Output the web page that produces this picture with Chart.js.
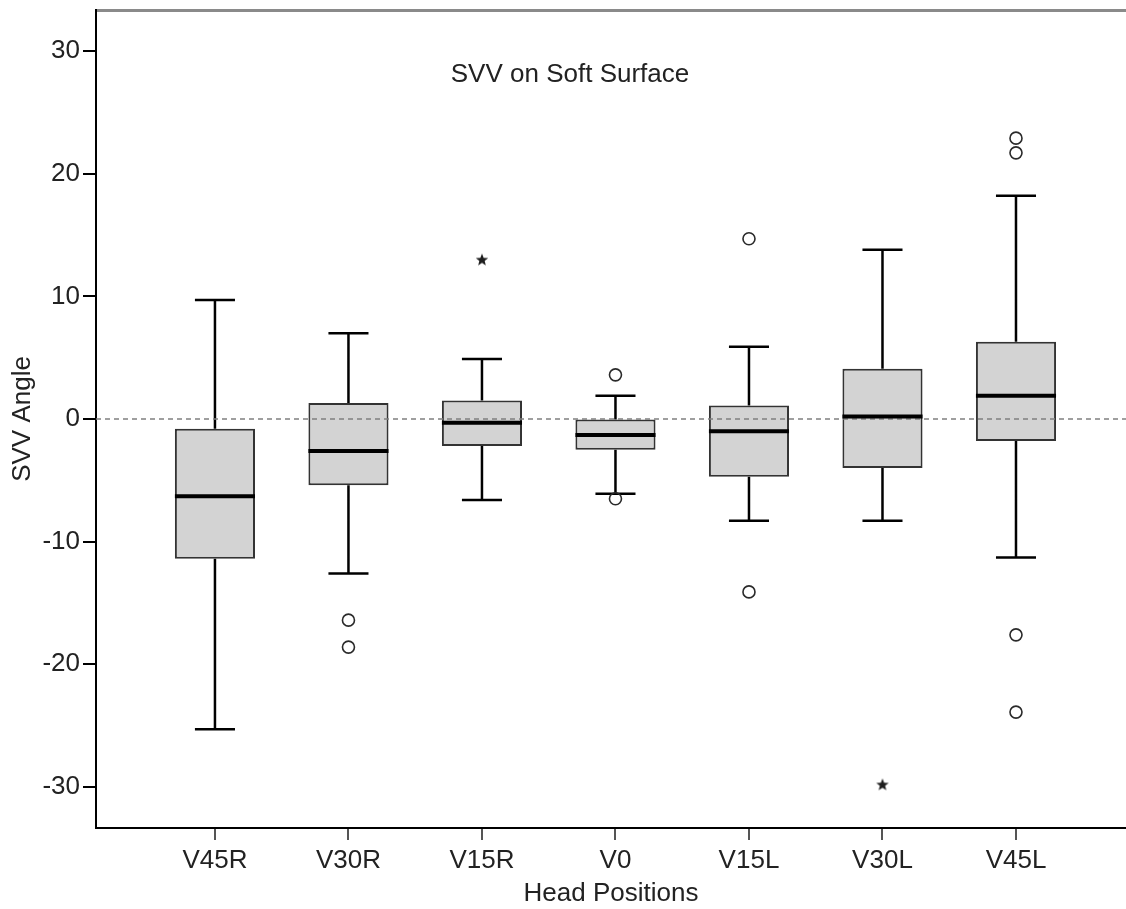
<!DOCTYPE html>
<html>
<head>
<meta charset="utf-8">
<title>SVV on Soft Surface</title>
<script src="https://cdn.jsdelivr.net/npm/chart.js@4.4.1/dist/chart.umd.min.js"></script>
<style>
    html, body { margin: 0; padding: 0; background: #ffffff; }
    #wrap { width: 1126px; height: 909px; }
</style>
</head>
<body>
<div id="wrap"><canvas id="svvChart"></canvas></div>
<script>
// valores (graus)
const categorias = ['V45R', 'V30R', 'V15R', 'V0', 'V15L', 'V30L', 'V45L'];
const bigodeMin = [-25.3, -12.6, -6.6, -6.1, -8.3, -8.3, -11.3];
const quartil1 = [-11.4, -5.4, -2.2, -2.5, -4.7, -4.0, -1.8];
const mediana = [-6.3, -2.6, -0.3, -1.3, -1.0, 0.2, 1.9];
const quartil3 = [-0.8, 1.3, 1.5, -0.05, 1.1, 4.1, 6.3];
const bigodeMax = [9.7, 7.0, 4.9, 1.9, 5.9, 13.8, 18.2];

// outliers (circulos) e extremos (estrelas): indice da categoria + valor
const outlierCat = [1, 1, 3, 3, 4, 4, 6, 6, 6, 6];
const outlierVal = [-16.4, -18.6, 3.6, -6.5, 14.7, -14.1, 22.9, 21.7, -17.6, -23.9];
const extremoCat = [2, 5];
const extremoVal = [13.0, -29.8];

const yTicks = [-30, -20, -10, 0, 10, 20, 30];
const tituloGrafico = 'SVV on Soft Surface';
const tituloX = 'Head Positions';
const tituloY = 'SVV Angle';

const fonte = '"Liberation Sans", Arial, sans-serif';
const xMin = -0.891, xMax = 6.824;
const yMin = -33.35, yMax = 33.35;
const meiaCaixa = 0.3;   // metade da largura da caixa (unidades do eixo x)
const meioTraco = 0.15;  // metade da largura do traco do bigode

function montarBigodes() {
    const pts = [];
    for (let i = 0; i < categorias.length; i++) {
        pts.push({x: i, y: quartil3[i]}, {x: i, y: bigodeMax[i]}, {x: i, y: null});
        pts.push({x: i, y: quartil1[i]}, {x: i, y: bigodeMin[i]}, {x: i, y: null});
        pts.push({x: i - meioTraco, y: bigodeMax[i]}, {x: i + meioTraco, y: bigodeMax[i]}, {x: i, y: null});
        pts.push({x: i - meioTraco, y: bigodeMin[i]}, {x: i + meioTraco, y: bigodeMin[i]}, {x: i, y: null});
    }
    return pts;
}

function montarMedianas() {
    const pts = [];
    for (let i = 0; i < categorias.length; i++) {
        pts.push({x: i - meiaCaixa, y: mediana[i]}, {x: i + meiaCaixa, y: mediana[i]}, {x: i, y: null});
    }
    return pts;
}

function criarEstrela() {
    const c = document.createElement('canvas');
    c.width = 14;
    c.height = 14;
    const g = c.getContext('2d');
    g.fillStyle = '#1e1e1e';
    g.beginPath();
    for (let k = 0; k < 10; k++) {
        const r = k % 2 === 0 ? 6.5 : 2.8;
        const a = -Math.PI / 2 + k * Math.PI / 5;
        const px = 7 + r * Math.cos(a);
        const py = 7.5 + r * Math.sin(a);
        if (k === 0) g.moveTo(px, py); else g.lineTo(px, py);
    }
    g.closePath();
    g.fill();
    return c;
}

const tituloInterno = {
    id: 'tituloInterno',
    afterDraw(chart) {
        const ctx = chart.ctx;
        ctx.save();
        ctx.font = '26px ' + fonte;
        ctx.fillStyle = '#222222';
        ctx.textAlign = 'center';
        ctx.textBaseline = 'middle';
        ctx.fillText(tituloGrafico, 570, chart.chartArea.top + 65);
        ctx.restore();
    }
};

const config = {
    type: 'bar',
    data: {
        datasets: [
            {
                type: 'line',
                label: 'zero',
                data: [{x: xMin, y: 0}, {x: xMax, y: 0}],
                borderColor: '#808080',
                borderWidth: 1.5,
                borderDash: [5, 4],
                pointRadius: 0,
                order: 2
            },
            {
                type: 'line',
                label: 'medianas',
                data: montarMedianas(),
                borderColor: '#000000',
                borderWidth: 4,
                pointRadius: 0,
                spanGaps: false,
                order: 1
            },
            {
                type: 'line',
                label: 'bigodes',
                data: montarBigodes(),
                borderColor: '#000000',
                borderWidth: 2.5,
                pointRadius: 0,
                spanGaps: false,
                order: 4
            },
            {
                label: 'caixas',
                data: categorias.map((c, i) => ({x: i, y: [quartil1[i], quartil3[i]]})),
                backgroundColor: '#d3d3d3',
                borderColor: '#333333',
                borderWidth: 2,
                borderSkipped: false,
                barPercentage: 0.6,
                categoryPercentage: 1,
                order: 3
            },
            {
                type: 'scatter',
                label: 'outliers',
                data: outlierCat.map((c, i) => ({x: c, y: outlierVal[i]})),
                pointStyle: 'circle',
                pointRadius: 6,
                backgroundColor: 'rgba(255,255,255,0)',
                borderColor: '#2a2a2a',
                borderWidth: 1.6,
                order: 0
            },
            {
                type: 'scatter',
                label: 'extremos',
                data: extremoCat.map((c, i) => ({x: c, y: extremoVal[i]})),
                pointStyle: criarEstrela(),
                order: 0
            }
        ]
    },
    options: {
        responsive: true,
        maintainAspectRatio: false,
        animation: false,
        layout: { padding: 0, autoPadding: false },
        plugins: {
            legend: { display: false },
            tooltip: { enabled: false }
        },
        scales: {
            x: {
                type: 'linear',
                position: 'bottom',
                min: xMin,
                max: xMax,
                offset: false,
                afterBuildTicks: (axis) => { axis.ticks = categorias.map((c, i) => ({value: i})); },
                afterFit: (axis) => { axis.height = 81; },
                ticks: {
                    callback: (v) => categorias[v],
                    color: '#222222',
                    font: { family: fonte, size: 26 },
                    padding: 5,
                    maxRotation: 0,
                    autoSkip: false
                },
                grid: {
                    offset: false,
                    drawOnChartArea: false,
                    drawTicks: true,
                    tickLength: 12,
                    color: '#555555',
                    lineWidth: 2
                },
                border: { display: true, color: '#000000', width: 2 },
                title: {
                    display: true,
                    text: tituloX,
                    color: '#222222',
                    font: { family: fonte, size: 26 },
                    padding: { top: 0, bottom: 0 }
                }
            },
            xTopo: {
                type: 'linear',
                position: 'top',
                min: xMin,
                max: xMax,
                offset: false,
                afterFit: (axis) => { axis.height = 10; },
                ticks: { display: false },
                grid: { display: false, drawTicks: false, tickLength: 0 },
                border: { display: true, color: '#8a8a8a', width: 3 }
            },
            y: {
                type: 'linear',
                position: 'left',
                min: yMin,
                max: yMax,
                afterBuildTicks: (axis) => { axis.ticks = yTicks.map(v => ({value: v})); },
                afterFit: (axis) => { axis.width = 96; axis.paddingTop = 0; axis.paddingBottom = 0; },
                ticks: {
                    callback: (v) => String(v),
                    color: '#222222',
                    font: { family: fonte, size: 26 },
                    padding: 3
                },
                grid: {
                    drawOnChartArea: false,
                    drawTicks: true,
                    tickLength: 13,
                    color: '#000000',
                    lineWidth: 2
                },
                border: { display: true, color: '#000000', width: 2 },
                title: {
                    display: true,
                    text: tituloY,
                    color: '#222222',
                    font: { family: fonte, size: 26 },
                    padding: { top: 7, bottom: 0 }
                }
            }
        }
    },
    plugins: [tituloInterno]
};

const svvChart = new Chart(document.getElementById('svvChart'), config);
</script>
</body>
</html>
